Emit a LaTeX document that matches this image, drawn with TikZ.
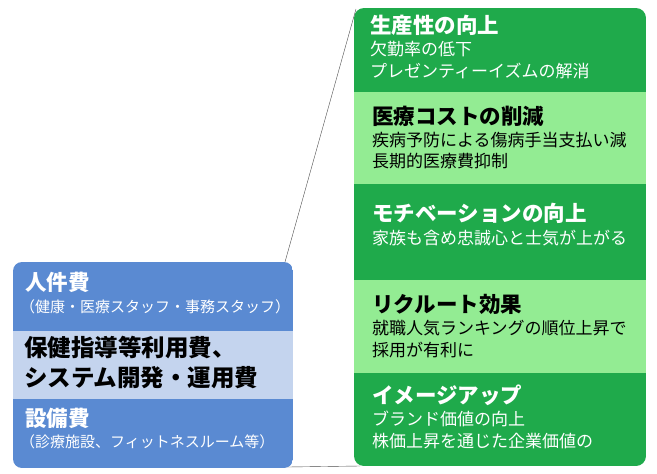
\documentclass[tikz,border=0pt]{standalone}
\usepackage{fontspec}
\setmainfont{Noto Sans CJK JP}
\usetikzlibrary{positioning}
\definecolor{costblue}{HTML}{5A8AD2}
\definecolor{costlight}{HTML}{C4D4EE}
\definecolor{gaindark}{HTML}{1FAA4B}
\definecolor{gainlight}{HTML}{93EC93}
\tikzset{head/.style={anchor=north west,inner sep=0pt,font=\fontsize{21.5}{24}\selectfont\bfseries},
  sub/.style={anchor=north west,inner sep=0pt,align=left,font=\fontsize{17}{21.5}\selectfont},
  lsub/.style={anchor=north west,inner sep=0pt,align=left,font=\fontsize{15}{18}\selectfont},
  big/.style={anchor=north west,inner sep=0pt,align=left,font=\fontsize{23.5}{30}\selectfont\bfseries}}
\begin{document}
\begin{tikzpicture}[x=1pt,y=-1pt]
\useasboundingbox (0,0) rectangle (657,474);
% cost box
\begin{scope}
\clip[rounded corners=9pt] (13,262) rectangle (293,468);
\fill[costblue] (13,262) rectangle (293,468);
\fill[costlight] (13,331) rectangle (293,399);
\end{scope}
\coordinate (lt) at (285,262);
\coordinate (lb) at (288,467);
\node[head,text=white] (jinken) at (25,272) {人件費};
\node[lsub,text=white] (jinkensub) at (20,299) {（健康・医療スタッフ・事務スタッフ）};
\node[big] (hoken) at (24,336) {保健指導等利用費、\\システム開発・運用費};
\node[head,text=white] (setsubi) at (25,408) {設備費};
\node[lsub,text=white] (setsubisub) at (20,434) {（診療施設、フィットネスルーム等）};
% gain box
\begin{scope}
\clip[rounded corners=10pt] (354,8) rectangle (646,466);
\fill[gaindark] (354,8) rectangle (646,466);
\fill[gainlight] (354,92) rectangle (646,184);
\fill[gainlight] (354,280) rectangle (646,373);
\end{scope}
\coordinate (rt) at (356,9);
\coordinate (rb) at (360,466);
\node[head,text=white] (seisan) at (370,15) {生産性の向上};
\node[sub,text=white] (seisansub) at (370,41) {欠勤率の低下\\プレゼンティーイズムの解消};
\node[head] (iryo) at (372,106) {医療コストの削減};
\node[sub] (iryosub) at (372,132) {疾病予防による傷病手当支払い減\\長期的医療費抑制};
\node[head,text=white] (motive) at (372,203) {モチベーションの向上};
\node[sub,text=white] (motivesub) at (372,230) {家族も含め忠誠心と士気が上がる};
\node[head] (recruit) at (372,294) {リクルート効果};
\node[sub] (recruitsub) at (372,320) {就職人気ランキングの順位上昇で\\採用が有利に};
\node[head,text=white] (image) at (372,385) {イメージアップ};
\node[sub,text=white] (imagesub) at (372,411) {ブランド価値の向上\\株価上昇を通じた企業価値の};
% connectors
\draw[black!70,thin] (lt) -- (rt);
\draw[black!70,thin] (lb) -- (rb);
\end{tikzpicture}
\end{document}
